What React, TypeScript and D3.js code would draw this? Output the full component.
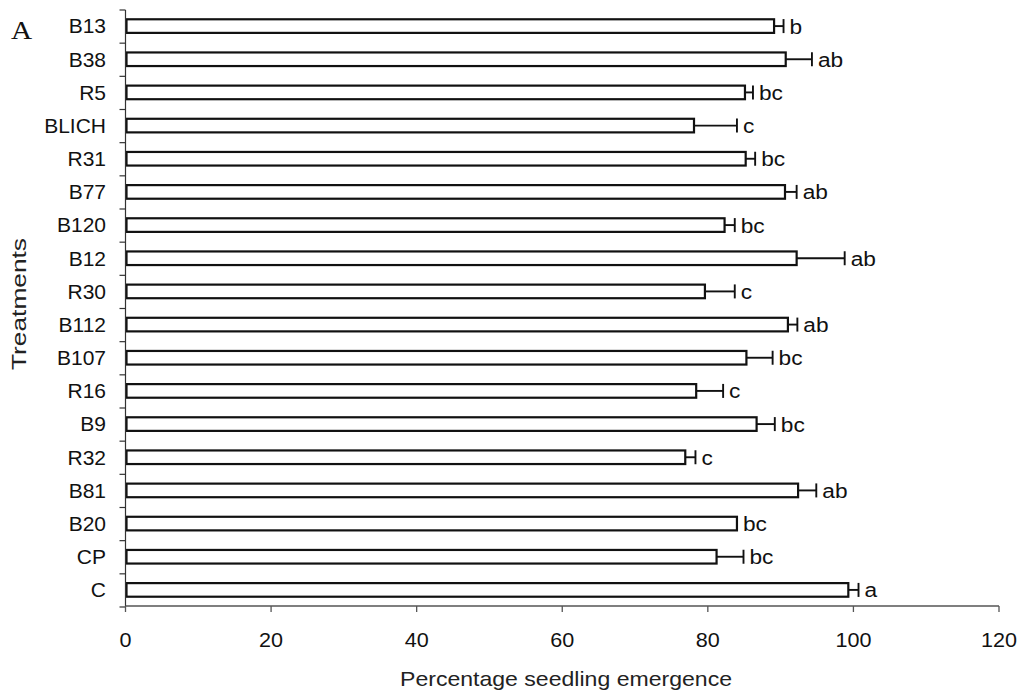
import React from "react";
import * as d3 from "d3";

// Treatments listed top to bottom
const treatments = [
  "B13", "B38", "R5", "BLICH", "R31", "B77", "B120", "B12", "R30",
  "B112", "B107", "R16", "B9", "R32", "B81", "B20", "CP", "C",
];
// Mean percentage seedling emergence
const emergence = [
  89.1, 90.7, 85.1, 78.1, 85.2, 90.6, 82.3, 92.2, 79.6,
  91.0, 85.3, 78.4, 86.7, 76.9, 92.4, 84.0, 81.2, 99.3,
];
// Standard error (one-sided whisker)
const stdError = [
  1.3, 3.6, 1.1, 5.9, 1.3, 1.6, 1.4, 6.6, 4.1,
  1.3, 3.6, 3.7, 2.5, 1.4, 2.5, 0, 3.7, 1.4,
];
// Significance letters
const letters = [
  "b", "ab", "bc", "c", "bc", "ab", "bc", "ab", "c",
  "ab", "bc", "c", "bc", "c", "ab", "bc", "bc", "a",
];
const xTicks = [0, 20, 40, 60, 80, 100, 120];

const W = 1029;
const H = 694;
const left = 125.5;
const right = 999;
const top = 10;
const bottom = 606;
const sans = "'Liberation Sans', Arial, sans-serif";

// Text drawn slightly wider than the font's natural proportions
function WideText(props: {
  x: number;
  y: number;
  sx: number;
  size: number;
  anchor?: "start" | "middle" | "end";
  family?: string;
  children: React.ReactNode;
}) {
  return (
    <g transform={`translate(${props.x},${props.y}) scale(${props.sx},1)`}>
      <text
        x={0}
        y={0}
        textAnchor={props.anchor ?? "start"}
        fontFamily={props.family ?? sans}
        fontSize={props.size}
        fill="#111"
      >
        {props.children}
      </text>
    </g>
  );
}

export default function App() {
  const x = d3.scaleLinear().domain([0, 120]).range([left, right]);
  const y = d3
    .scaleBand<string>()
    .domain(treatments)
    .range([top, bottom])
    .paddingInner(0.59)
    .paddingOuter(0.28);
  const step = y.step();
  const bw = y.bandwidth();
  const boundaries = d3.range(treatments.length + 1).map((i) => top + i * step);

  return (
    <svg
      width={W}
      height={H}
      style={{ position: "absolute", left: 0, top: 0, background: "#fff" }}
    >
      {/* panel letter */}
      <WideText x={11} y={39} sx={1.17} size={25} family="'Liberation Serif', 'Times New Roman', serif">
        A
      </WideText>

      {/* bars */}
      {treatments.map((t, i) => {
        const yc = (y(t) as number) + bw / 2;
        const x0 = x(0);
        const x1 = x(emergence[i]);
        const xe = x(emergence[i] + stdError[i]);
        return (
          <g key={t}>
            <rect
              x={x0 + 1}
              y={y(t) as number}
              width={x1 - x0 - 1}
              height={bw}
              fill="#fff"
              stroke="#111"
              strokeWidth={2.2}
            />
            {stdError[i] > 0 && (
              <g stroke="#111" strokeWidth={1.9}>
                <line x1={x1} x2={xe} y1={yc} y2={yc} />
                <line x1={xe} x2={xe} y1={yc - 7} y2={yc + 7} />
              </g>
            )}
            <WideText x={xe + 6} y={yc + 7.5} sx={1.08} size={21}>
              {letters[i]}
            </WideText>
            <text
              x={106}
              y={yc + 7.3}
              textAnchor="end"
              fontFamily={sans}
              fontSize={21}
              fill="#111"
            >
              {t}
            </text>
          </g>
        );
      })}

      {/* y axis */}
      <g stroke="#333" strokeWidth={1.2}>
        <line x1={left} x2={left} y1={top} y2={bottom} />
        {boundaries.map((b, i) => (
          <line key={i} x1={left - 6} x2={left} y1={b} y2={b} />
        ))}
      </g>

      {/* x axis */}
      <g stroke="#555" strokeWidth={1.3}>
        <line x1={left} x2={right} y1={bottom} y2={bottom} />
        {xTicks.map((v) => (
          <line key={v} x1={x(v)} x2={x(v)} y1={bottom} y2={bottom + 6} />
        ))}
      </g>
      {xTicks.map((v) => (
        <WideText key={v} x={x(v)} y={647} sx={1.08} size={20} anchor="middle">
          {v}
        </WideText>
      ))}

      <text
        x={566}
        y={686}
        textAnchor="middle"
        fontFamily={sans}
        fontSize={21}
        fill="#222"
        textLength={332}
        lengthAdjust="spacingAndGlyphs"
      >
        Percentage seedling emergence
      </text>
      <text
        transform={`translate(26,${304}) rotate(-90)`}
        x={0}
        y={0}
        textAnchor="middle"
        fontFamily={sans}
        fontSize={20}
        fill="#222"
        textLength={132}
        lengthAdjust="spacingAndGlyphs"
      >
        Treatments
      </text>
    </svg>
  );
}
